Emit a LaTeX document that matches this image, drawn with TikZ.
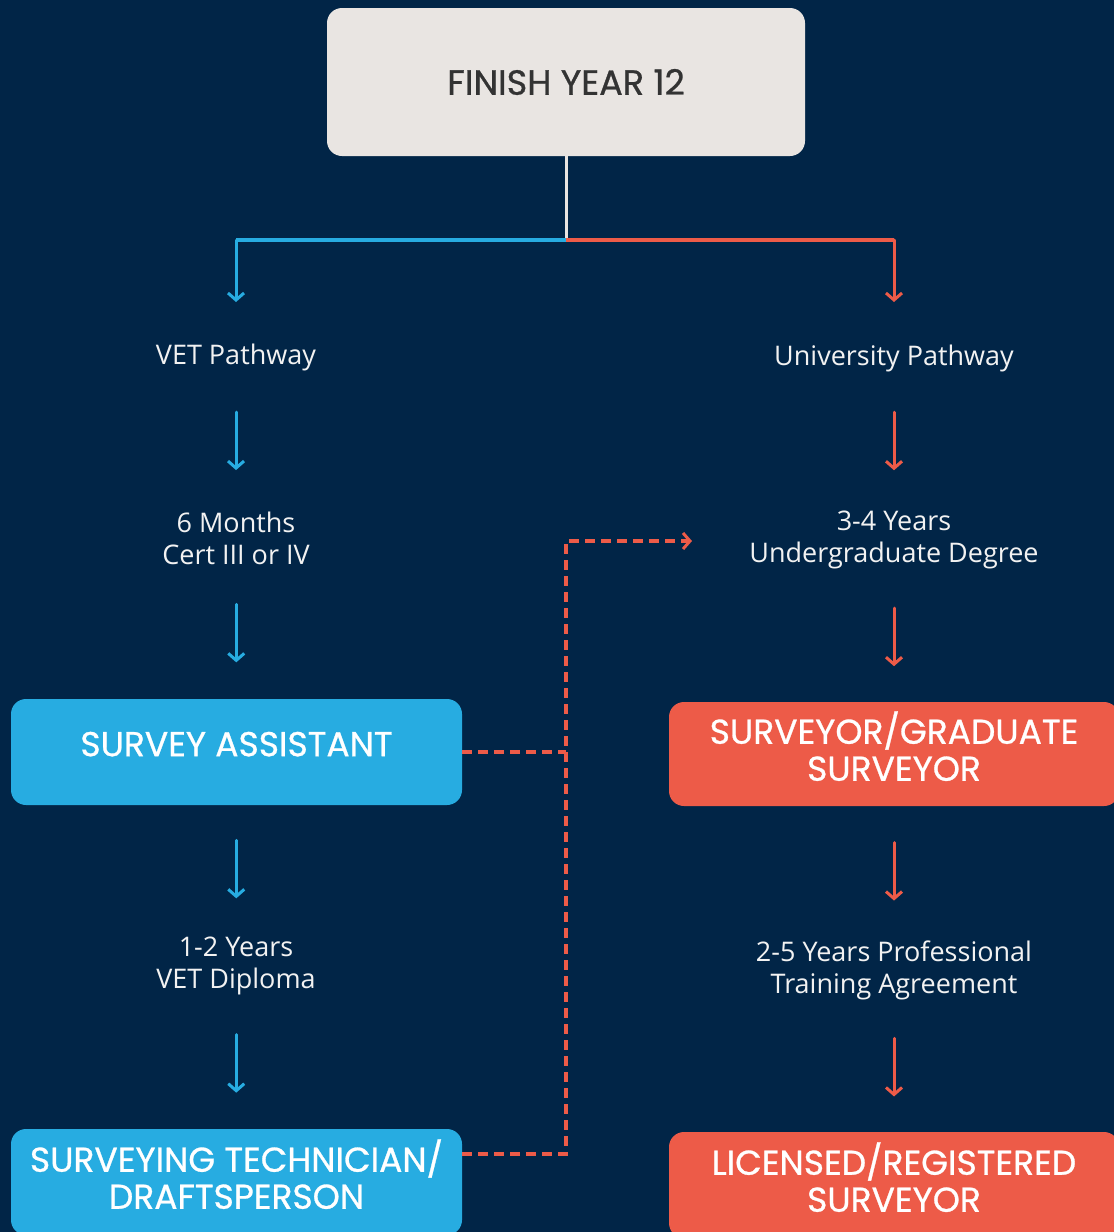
\documentclass[tikz,border=0pt]{standalone}
\usepackage{fontspec}
\setmainfont{Open Sans}
\newfontfamily\headfont{Poppins}[FakeBold=0.8]
\usetikzlibrary{arrows.meta,calc}
\definecolor{navy}{RGB}{1,37,71}
\definecolor{skyblue}{RGB}{39,172,225}
\definecolor{coral}{RGB}{237,91,72}
\definecolor{paper}{RGB}{233,229,226}
\definecolor{ink}{RGB}{51,51,51}

\begin{document}
\begin{tikzpicture}[x=1pt,y=-1pt,
		stagebox/.style={rounded corners=15pt, minimum width=451pt, minimum height=106pt,
			align=center, text=white, inner sep=0pt, text depth=16pt,
			font=\headfont\fontsize{34.5}{37}\selectfont},
		steptext/.style={align=center, text=white!95!black,
			font=\fontsize{27}{32}\selectfont},
		flow/.style={line width=3pt, -{Straight Barb[length=7pt,width=16pt,line width=3pt]}, line cap=round},
		jump/.style={coral, line width=3.5pt, dash pattern=on 10pt off 6pt}]
				%Background
				\fill[navy] (0,0) rectangle (1114,1232);
				\clip (0,0) rectangle (1114,1232);

				%Nodes
				\node[fill=paper, rounded corners=15pt, minimum width=478pt, minimum height=148pt,
					text=ink, font=\headfont\fontsize{35}{38}\selectfont] (start) at (566,82) {FINISH YEAR 12};

				\coordinate      (fork) 	at 	(566,240);
				\coordinate      (vtop) 	at 	(236,240);
				\coordinate      (utop) 	at 	(894,240);

				\node[steptext] (vet) 	at 	(236,357) {VET Pathway};
				\node[steptext] (cert) 	at 	(236,538) {6 Months\\Cert III or IV};
				\node[stagebox, fill=skyblue] (assist) at (236.5,752) {SURVEY ASSISTANT};
				\node[steptext] (dipl) 	at 	(236,966) {1-2 Years\\VET Diploma};
				\node[stagebox, fill=skyblue] (tech) at (236.5,1182) {SURVEYING TECHNICIAN/\\DRAFTSPERSON};

				\node[steptext] (uni) 	at 	(894,358) {University Pathway};
				\node[steptext] (degree) 	at 	(894,540) {3-4 Years\\Undergraduate Degree};
				\node[stagebox, fill=coral, minimum width=450pt, minimum height=104pt] (grad) at (894,754) {SURVEYOR/GRADUATE\\SURVEYOR};
				\node[steptext] (pta) 	at 	(894,970) {2-5 Years Professional\\Training Agreement};
				\node[stagebox, fill=coral, minimum width=450pt] (lic) at (894,1185) {LICENSED/REGISTERED\\SURVEYOR};

				\coordinate      (dtop) 	at 	(566,541);
				\coordinate      (dend) 	at 	(692,541);
				\coordinate      (dmid) 	at 	(566,752);
				\coordinate      (dbot) 	at 	(566,1154);

				%Lines
				\draw[paper, line width=3pt] (start.south) -- (fork);
				\draw[skyblue, line width=4pt] (fork) -- (vtop);
				\draw[coral, line width=4pt] (fork) -- (utop);
				\draw[flow, skyblue] (vtop) -- ++(0,62);
				\draw[flow, coral] (utop) -- ++(0,62);

				\foreach \a/\b in {vet/cert, cert/assist, assist/dipl, dipl/tech}
					\draw[flow, skyblue] ([yshift=29pt]$(\a.south)!.5!(\b.north)$) -- ([yshift=-29pt]$(\a.south)!.5!(\b.north)$);
				\foreach \a/\b in {uni/degree, degree/grad, grad/pta, pta/lic}
					\draw[flow, coral] ([yshift=29pt]$(\a.south)!.5!(\b.north)$) -- ([yshift=-29pt]$(\a.south)!.5!(\b.north)$);

				%Dashed link
				\draw[jump] (assist.east) -- (dmid);
				\draw[jump] (tech.east |- dbot) -- (dbot) -- (dtop) -- ([xshift=-6pt]dend);
				\draw[coral, line width=3.5pt, -{Straight Barb[length=7pt,width=16pt,line width=3pt]}, line cap=round]
					([xshift=-8pt]dend) -- (dend);
			\end{tikzpicture}
\end{document}
